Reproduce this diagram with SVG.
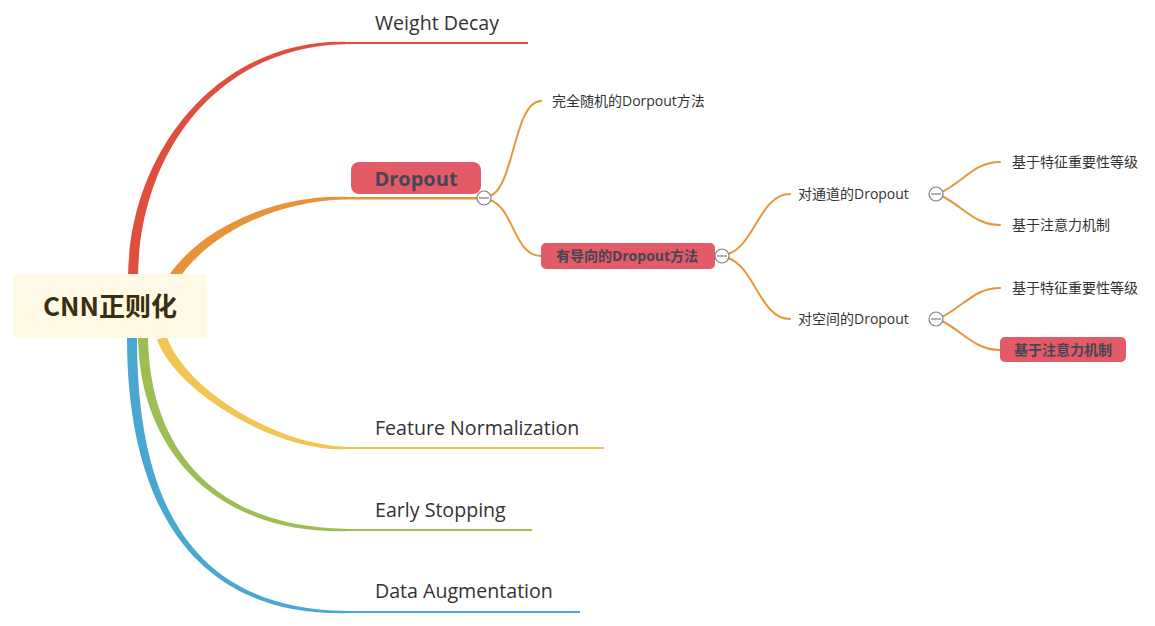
<svg xmlns="http://www.w3.org/2000/svg" width="1155" height="626" viewBox="0 0 1155 626">
<style>
.lbl{font-family:"Open Sans","Noto Sans CJK SC",sans-serif;font-size:19.6px;fill:#333}
.sub{font-family:"Open Sans","Noto Sans CJK SC",sans-serif;font-size:14px;fill:#333}
.hl{font-family:"Open Sans","Noto Sans CJK SC",sans-serif;font-size:14px;font-weight:bold;fill:#454556}
.box{fill:#e35b67}
.con{fill:none;stroke:#e8963d;stroke-width:2;stroke-linecap:round}
.tog circle{fill:#fff;stroke:#808080;stroke-width:1.2}
.tog line{stroke:#808080;stroke-width:1.2}
</style>
<rect width="1155" height="626" fill="#fff"/>
<g id="connectors">
<path d="M128,280 C128,150 220,39.5 345,41.8 L345,44.2 C220,46.5 138,150 138,280 Z" fill="#e04e3f"/>
<line x1="344" y1="43" x2="528" y2="43" stroke="#e04e3f" stroke-width="2.2"/>
<path d="M167.8,277.4 C195.8,232.4 270,194.5 345,196.8 L345,199.6 C270,201.5 204.2,237.6 176.2,282.6 Z" fill="#e8923a"/>
<line x1="344" y1="198.2" x2="478" y2="198.2" stroke="#e8923a" stroke-width="2.6"/>
<path d="M157,339.6 C175.3,391.6 275,451.5 345,449.2 L345,446.8 C275,444.5 184.7,388.4 166.7,336.4 Z" fill="#f4c453"/>
<line x1="344" y1="448" x2="604" y2="448" stroke="#f4c453" stroke-width="2.2"/>
<path d="M138,338 C140,450 215,533.5 345,531.2 L345,528.8 C215,526.5 150,450 148,338 Z" fill="#9ebe55"/>
<line x1="344" y1="530" x2="532" y2="530" stroke="#9ebe55" stroke-width="2.2"/>
<path d="M127,338 C127,500 190,615.5 345,613.2 L345,610.8 C190,608.5 137,500 137,338 Z" fill="#4aa7d0"/>
<line x1="344" y1="612" x2="580" y2="612" stroke="#4aa7d0" stroke-width="2.2"/>
<path class="con" d="M490,196 C514,188 514,101 541,101"/>
<path class="con" d="M490,200 C514,208 514,256 541,256"/>
<path class="con" d="M728,254 C755,245 760,194 790,194"/>
<path class="con" d="M728,258 C755,267 760,319 790,319"/>
<path class="con" d="M942,192 C965,180 975,162 1000,162"/>
<path class="con" d="M942,196 C965,208 975,225 1000,225"/>
<path class="con" d="M942,317 C965,305 975,288 1000,288"/>
<path class="con" d="M942,321 C965,333 975,350 1000,350"/>
</g>
<g id="root">
<rect x="13" y="274" width="194" height="64" rx="3" fill="#fefae6"/>
<text x="110" y="316" text-anchor="middle" font-family="'Noto Sans CJK SC',sans-serif" font-size="26" font-weight="bold" fill="#3b2e0c">CNN正则化</text>
</g>
<g id="weight-decay"><text class="lbl" x="375" y="30">Weight Decay</text></g>
<g id="dropout">
<rect class="box" x="351" y="162" width="130" height="32" rx="8"/>
<text x="416" y="186" text-anchor="middle" font-family="'Open Sans',sans-serif" font-size="20" font-weight="bold" fill="#454556">Dropout</text>
</g>
<g id="feature-normalization"><text class="lbl" x="375" y="435">Feature Normalization</text></g>
<g id="early-stopping"><text class="lbl" x="375" y="517">Early Stopping</text></g>
<g id="data-augmentation"><text class="lbl" x="375" y="598">Data Augmentation</text></g>
<g id="random-dropout"><text class="sub" x="552" y="106">完全随机的Dorpout方法</text></g>
<g id="guided-dropout">
<rect class="box" x="541" y="243" width="174" height="26" rx="5"/>
<text class="hl" x="627" y="261" text-anchor="middle">有导向的Dropout方法</text>
</g>
<g id="channel-dropout"><text class="sub" x="798" y="199">对通道的Dropout</text></g>
<g id="spatial-dropout"><text class="sub" x="798" y="324">对空间的Dropout</text></g>
<g id="channel-importance"><text class="sub" x="1012" y="167">基于特征重要性等级</text></g>
<g id="channel-attention"><text class="sub" x="1012" y="230">基于注意力机制</text></g>
<g id="spatial-importance"><text class="sub" x="1012" y="293">基于特征重要性等级</text></g>
<g id="spatial-attention">
<rect class="box" x="1000" y="337" width="126" height="25" rx="5"/>
<text class="hl" x="1063" y="355" text-anchor="middle">基于注意力机制</text>
</g>
<g id="toggles" class="tog">
<circle cx="484" cy="198" r="7"/><line x1="479" y1="198" x2="489" y2="198"/>
<circle cx="722" cy="256" r="7"/><line x1="717" y1="256" x2="727" y2="256"/>
<circle cx="936" cy="194" r="7"/><line x1="931" y1="194" x2="941" y2="194"/>
<circle cx="936" cy="319" r="7"/><line x1="931" y1="319" x2="941" y2="319"/>
</g>
</svg>
